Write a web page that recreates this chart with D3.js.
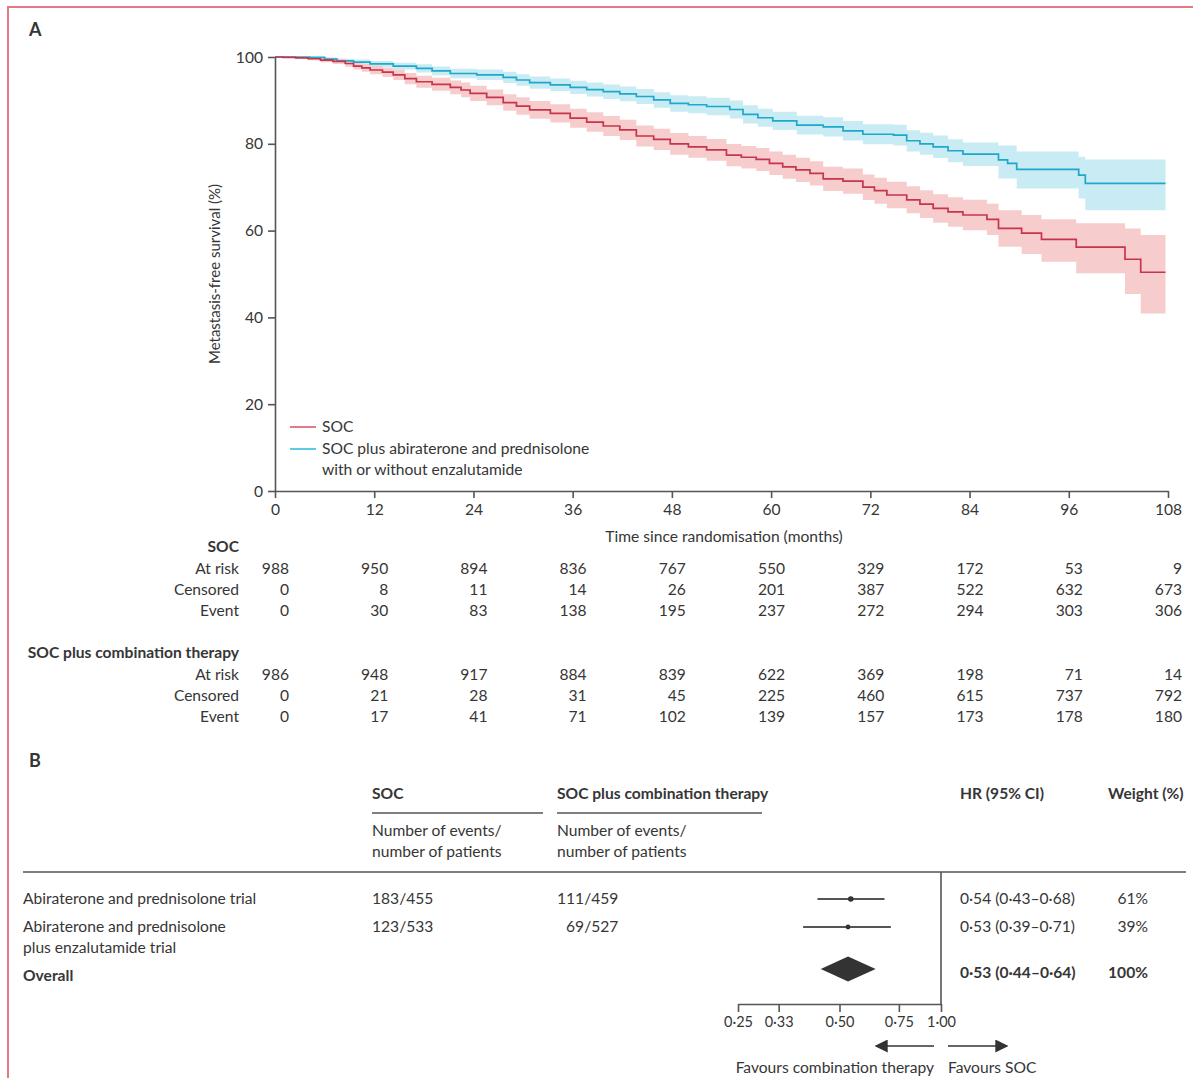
<!DOCTYPE html>
<html>
<head>
<meta charset="utf-8">
<script src="https://cdn.jsdelivr.net/npm/d3@7"></script>
<style>
  html, body { margin: 0; padding: 0; background: #fff; }
  svg { display: block; }
  text { font-family: Lato, "Noto Sans", sans-serif; fill: #363636; }
  .bold { font-weight: 700; }
</style>
</head>
<body>
<svg id="fig" width="1193" height="1078"></svg>
<script>
// ---- Panel A: Kaplan-Meier metastasis-free survival, rows of [month, survival %, lower 95% CI, upper 95% CI]
const socSteps = [
  [0, 100, 100, 100], [1, 99.9, 99.8, 100], [2.5, 99.8, 99.6, 100], [4, 99.6, 99.25, 99.95],
  [5.5, 99.3, 98.8, 99.8], [7, 99.0, 98.4, 99.6], [8.5, 98.5, 97.75, 99.25], [9.5, 97.9, 97.1, 98.7],
  [10.5, 97.5, 96.6, 98.4], [11.5, 97.0, 96.0, 98.0], [13, 96.5, 95.4, 97.6], [14.3, 95.9, 94.7, 97.1],
  [15.7, 95.0, 93.7, 96.3], [17.1, 94.3, 92.9, 95.7], [19, 93.7, 92.2, 95.2], [21.2, 93.0, 91.4, 94.6],
  [22.5, 92.4, 90.7, 94.1], [23.6, 91.6, 89.85, 93.35], [25.6, 90.7, 88.9, 92.5], [27.6, 89.5, 87.6, 91.4],
  [29.2, 88.7, 86.7, 90.7], [30.8, 87.8, 85.75, 89.85], [33.3, 87.0, 84.9, 89.1], [35.7, 85.9, 83.7, 88.1],
  [37.7, 85.0, 82.75, 87.25], [39.7, 84.1, 81.8, 86.4], [41.7, 83.2, 80.85, 85.55], [43.7, 81.8, 79.4, 84.2],
  [45.8, 81.0, 78.55, 83.45], [47.8, 80.0, 77.5, 82.5], [50, 79.3, 76.8, 81.8], [52.2, 78.6, 76.1, 81.1],
  [54.6, 77.4, 74.85, 79.95], [56.4, 76.9, 74.3, 79.5], [58.2, 76.4, 73.75, 79.05], [59.8, 75.5, 72.8, 78.2],
  [61.4, 74.7, 71.95, 77.45], [63, 74.0, 71.2, 76.8], [64.7, 73.2, 70.4, 76.0], [66.3, 71.9, 69.1, 74.7],
  [68.7, 71.4, 68.5, 74.3], [71.1, 70.0, 67.05, 72.95], [72.5, 69.2, 66.2, 72.2], [74.0, 68.2, 65.15, 71.25],
  [76.4, 67.1, 64.0, 70.2], [78, 66.1, 62.9, 69.3], [79.6, 65.1, 61.8, 68.4], [81.4, 64.3, 60.9, 67.7],
  [83.2, 63.6, 60.1, 67.1], [86.1, 62.6, 59.0, 66.2], [87.5, 60.5, 56.3, 64.7], [90.3, 59.4, 54.6, 63.6],
  [92.7, 58.0, 52.8, 62.6], [96.9, 56.2, 50.2, 61.7], [102.8, 53.4, 45.4, 60.5], [104.7, 50.4, 40.9, 59.0],
  [107.7, 50.4, 40.9, 59.0]
];
const comboSteps = [
  [0, 100, 100, 100], [1, 100, 99.95, 100], [2.5, 99.95, 99.8, 100], [4.2, 99.9, 99.65, 100],
  [6, 99.5, 99.1, 99.9], [7.5, 99.1, 98.6, 99.6], [9.5, 98.8, 98.2, 99.4], [11.5, 98.4, 97.7, 99.1],
  [14.3, 97.9, 97.1, 98.7], [17.1, 97.4, 96.45, 98.35], [19, 96.8, 95.8, 97.8], [21.2, 96.2, 95.1, 97.3],
  [24.4, 95.9, 94.7, 97.1], [27.6, 95.3, 94.0, 96.6], [29.2, 94.7, 93.35, 96.05], [30.8, 94.1, 92.7, 95.5],
  [33.3, 93.6, 92.15, 95.05], [35.7, 93.0, 91.5, 94.5], [37.7, 92.5, 90.9, 94.1], [39.7, 92.0, 90.35, 93.65],
  [41.7, 91.5, 89.8, 93.2], [43.7, 90.9, 89.15, 92.65], [45.8, 90.1, 88.3, 91.9], [47.8, 89.3, 87.4, 91.2],
  [50, 89.0, 87.05, 90.95], [52.2, 88.6, 86.6, 90.6], [55.0, 87.9, 85.85, 89.95], [56.6, 86.8, 84.7, 88.9],
  [58.4, 86.0, 83.9, 88.1], [60.2, 85.3, 83.2, 87.4], [63.1, 84.3, 82.15, 86.45], [66.3, 83.9, 81.7, 86.1],
  [68.7, 83.0, 80.75, 85.25], [71.1, 82.2, 79.9, 84.5], [74.8, 82.0, 79.6, 84.4], [76.4, 80.7, 78.25, 83.15],
  [78, 80.0, 77.45, 82.55], [79.6, 79.3, 76.7, 81.9], [81.4, 78.4, 75.75, 81.05], [83.2, 77.6, 74.9, 80.3],
  [87.5, 76.3, 72.0, 79.6], [88.6, 75.5, 72.0, 79.6], [89.7, 74.1, 69.7, 78.2], [97.2, 72.8, 67.4, 77.0],
  [98.0, 70.9, 64.7, 76.4], [107.7, 70.9, 64.7, 76.4]
];

const monthTicks = [0, 12, 24, 36, 48, 60, 72, 84, 96, 108];
const survivalTicks = [0, 20, 40, 60, 80, 100];

// Numbers at risk table
const socAtRisk     = [988, 950, 894, 836, 767, 550, 329, 172, 53, 9];
const socCensored   = [0, 8, 11, 14, 26, 201, 387, 522, 632, 673];
const socEvent      = [0, 30, 83, 138, 195, 237, 272, 294, 303, 306];
const comboAtRisk   = [986, 948, 917, 884, 839, 622, 369, 198, 71, 14];
const comboCensored = [0, 21, 28, 31, 45, 225, 460, 615, 737, 792];
const comboEvent    = [0, 17, 41, 71, 102, 139, 157, 173, 178, 180];

// ---- Panel B: meta-analysis forest plot
const trialLabels   = [["Abiraterone and prednisolone trial"], ["Abiraterone and prednisolone", "plus enzalutamide trial"]];
const socEvents     = ["183/455", "123/533"];
const comboEvents   = ["111/459", "\u200769/527"];
const trialHR       = [0.54, 0.53];
const trialLower    = [0.43, 0.39];
const trialUpper    = [0.68, 0.71];
const trialWeight   = ["61%", "39%"];
const overallHR     = 0.53, overallLower = 0.44, overallUpper = 0.64, overallWeight = "100%";
const hrTicks       = [0.25, 0.33, 0.50, 0.75, 1.00];

const colSOC = "#c7344c", bandSOC = "#f5c9ca", legSOC = "#e27c89";
const colCombo = "#1ea8ca", bandCombo = "#c9ebf3", legCombo = "#5ccbe3";
const axisCol = "#555";
const FS = 15.6;

const svg = d3.select("#fig");
const fmt = v => v.toFixed(2).replace(".", "\u00b7");

// outer frame
svg.append("rect").attr("x", 8).attr("y", 7).attr("width", 1200).attr("height", 1100)
  .attr("fill", "none").attr("stroke", "#e27a86").attr("stroke-width", 2);

svg.append("text").attr("class", "bold").attr("x", 29).attr("y", 36)
  .attr("font-size", 18).text("A");

// ---- KM plot
const x = d3.scaleLinear().domain([0, 108]).range([275, 1168]);
const y = d3.scaleLinear().domain([0, 100]).range([491, 57]);

const band = d3.area().curve(d3.curveStepAfter)
  .x(d => x(d[0])).y0(d => y(d[2])).y1(d => y(d[3]));
const line = d3.line().curve(d3.curveStepAfter)
  .x(d => x(d[0])).y(d => y(d[1]));

const km = svg.append("g");
km.append("path").datum(comboSteps).attr("d", band).attr("fill", bandCombo);
km.append("path").datum(socSteps).attr("d", band).attr("fill", bandSOC).attr("fill-opacity", 0.95);
km.append("path").datum(comboSteps).attr("d", line).attr("fill", "none")
  .attr("stroke", colCombo).attr("stroke-width", 1.7);
km.append("path").datum(socSteps).attr("d", line).attr("fill", "none")
  .attr("stroke", colSOC).attr("stroke-width", 1.7);

const yAxis = svg.append("g").attr("transform", `translate(${x(0)},0)`)
  .call(d3.axisLeft(y).tickValues(survivalTicks).tickSize(7).tickSizeOuter(0).tickPadding(5));
const xAxis = svg.append("g").attr("transform", `translate(0,${y(0)})`)
  .call(d3.axisBottom(x).tickValues(monthTicks).tickSize(7).tickSizeOuter(0).tickPadding(6));
[yAxis, xAxis].forEach(a => {
  a.select(".domain").attr("stroke", axisCol).attr("stroke-width", 1.6);
  a.selectAll(".tick line").attr("stroke", axisCol).attr("stroke-width", 1.6);
  a.selectAll(".tick text").attr("font-size", FS).attr("fill", "#363636")
    .style("font-family", "Lato, 'Noto Sans', sans-serif");
});

svg.append("text").attr("transform", "translate(220,274) rotate(-90)")
  .attr("text-anchor", "middle").attr("font-size", 15).text("Metastasis-free survival (%)");
svg.append("text").attr("x", 724).attr("y", 542).attr("text-anchor", "middle")
  .attr("font-size", FS).text("Time since randomisation (months)");

// legend
const legend = svg.append("g");
[[legSOC, ["SOC"], 427], [legCombo, ["SOC plus abiraterone and prednisolone", "with or without enzalutamide"], 449]]
  .forEach(([lc, lines, ly]) => {
    legend.append("line").attr("x1", 290).attr("x2", 316).attr("y1", ly).attr("y2", ly)
      .attr("stroke", lc).attr("stroke-width", 2);
    lines.forEach((t, i) => legend.append("text").attr("x", 322).attr("y", ly + 5 + i * 21)
      .attr("font-size", FS).text(t));
  });

// ---- risk table
const tbl = svg.append("g");
function riskBlock(title, rows, top) {
  tbl.append("text").attr("class", "bold").attr("x", 239).attr("y", top).attr("text-anchor", "end")
    .attr("font-size", FS).text(title);
  rows.forEach(([label, vals], i) => {
    const ry = top + 22 + i * 21;
    tbl.append("text").attr("x", 239).attr("y", ry).attr("text-anchor", "end")
      .attr("font-size", FS).text(label);
    vals.forEach((v, j) => tbl.append("text").attr("x", x(monthTicks[j]) + 14).attr("y", ry)
      .attr("text-anchor", "end").attr("font-size", FS).text(v));
  });
}
riskBlock("SOC", [["At risk", socAtRisk], ["Censored", socCensored], ["Event", socEvent]], 552);
riskBlock("SOC plus combination therapy", [["At risk", comboAtRisk], ["Censored", comboCensored], ["Event", comboEvent]], 658);

// ---- Panel B
const fp = svg.append("g");
fp.append("text").attr("class", "bold").attr("x", 29).attr("y", 767).attr("font-size", 18).text("B");

const colSoc = 372, colCombo2 = 557, colHR = 960, colW = 1108;
fp.append("text").attr("class", "bold").attr("x", colSoc).attr("y", 799).attr("font-size", FS).text("SOC");
fp.append("text").attr("class", "bold").attr("x", colCombo2).attr("y", 799).attr("font-size", FS).text("SOC plus combination therapy");
fp.append("text").attr("class", "bold").attr("x", colHR).attr("y", 799).attr("font-size", FS).text("HR (95% CI)");
fp.append("text").attr("class", "bold").attr("x", colW).attr("y", 799).attr("font-size", FS).text("Weight (%)");
[[colSoc, 543], [colCombo2, 762]].forEach(([a, b]) =>
  fp.append("line").attr("x1", a).attr("x2", b).attr("y1", 813).attr("y2", 813)
    .attr("stroke", axisCol).attr("stroke-width", 1.6));
[colSoc, colCombo2].forEach(cx => {
  fp.append("text").attr("x", cx).attr("y", 836).attr("font-size", FS).text("Number of events/");
  fp.append("text").attr("x", cx).attr("y", 857).attr("font-size", FS).text("number of patients");
});
fp.append("line").attr("x1", 23).attr("x2", 1186).attr("y1", 872).attr("y2", 872)
  .attr("stroke", axisCol).attr("stroke-width", 1.6);

const hx = d3.scaleLog().domain([0.25, 1]).range([738, 941]);
const rowY = [899, 927];

trialLabels.forEach((lines, i) => {
  lines.forEach((t, k) => fp.append("text").attr("x", 23).attr("y", rowY[i] + 5 + k * 21)
    .attr("font-size", FS).text(t));
  fp.append("text").attr("x", colSoc).attr("y", rowY[i] + 5).attr("font-size", FS).text(socEvents[i]);
  fp.append("text").attr("x", colCombo2).attr("y", rowY[i] + 5).attr("font-size", FS).text(comboEvents[i]);
  fp.append("text").attr("x", colHR).attr("y", rowY[i] + 5).attr("font-size", FS)
    .text(`${fmt(trialHR[i])} (${fmt(trialLower[i])}\u2013${fmt(trialUpper[i])})`);
  fp.append("text").attr("x", 1148).attr("y", rowY[i] + 5).attr("text-anchor", "end")
    .attr("font-size", FS).text(trialWeight[i]);
  fp.append("line").attr("x1", hx(trialLower[i])).attr("x2", hx(trialUpper[i]))
    .attr("y1", rowY[i]).attr("y2", rowY[i]).attr("stroke", "#555").attr("stroke-width", 1.8);
  fp.append("circle").attr("cx", hx(trialHR[i])).attr("cy", rowY[i]).attr("r", i === 0 ? 2.8 : 2.4)
    .attr("fill", "#333");
});

const oy = 969;
fp.append("text").attr("class", "bold").attr("x", 23).attr("y", 981).attr("font-size", FS).text("Overall");
fp.append("path")
  .attr("d", `M${hx(overallLower)},${oy} L${hx(overallHR)},${oy - 12.5} L${hx(overallUpper)},${oy} L${hx(overallHR)},${oy + 12.5} Z`)
  .attr("fill", "#333");
fp.append("text").attr("class", "bold").attr("x", colHR).attr("y", 978).attr("font-size", FS)
  .text(`${fmt(overallHR)} (${fmt(overallLower)}\u2013${fmt(overallUpper)})`);
fp.append("text").attr("class", "bold").attr("x", 1148).attr("y", 978).attr("text-anchor", "end")
  .attr("font-size", FS).text(overallWeight);

// null line and HR axis
fp.append("line").attr("x1", hx(1)).attr("x2", hx(1)).attr("y1", 872).attr("y2", 1004)
  .attr("stroke", axisCol).attr("stroke-width", 1.6);
const hAxis = fp.append("g").attr("transform", "translate(0,1004)")
  .call(d3.axisBottom(hx).tickValues(hrTicks).tickFormat(fmt).tickSize(8).tickSizeOuter(0).tickPadding(5));
hAxis.select(".domain").attr("stroke", axisCol).attr("stroke-width", 1.6);
hAxis.selectAll(".tick line").attr("stroke", axisCol).attr("stroke-width", 1.6);
hAxis.selectAll(".tick text").attr("font-size", 14.5).attr("fill", "#363636")
  .style("font-family", "Lato, 'Noto Sans', sans-serif");

// favours arrows
const defs = svg.append("defs");
defs.append("marker").attr("id", "arrow").attr("viewBox", "0 0 10 10").attr("refX", 9).attr("refY", 5)
  .attr("markerWidth", 13).attr("markerHeight", 13).attr("markerUnits", "userSpaceOnUse")
  .attr("orient", "auto").append("path").attr("d", "M0,0 L10,5 L0,10 Z").attr("fill", "#333");
fp.append("line").attr("x1", 934).attr("x2", 876).attr("y1", 1046).attr("y2", 1046)
  .attr("stroke", "#333").attr("stroke-width", 1.6).attr("marker-end", "url(#arrow)");
fp.append("line").attr("x1", 948).attr("x2", 1007).attr("y1", 1046).attr("y2", 1046)
  .attr("stroke", "#333").attr("stroke-width", 1.6).attr("marker-end", "url(#arrow)");
fp.append("text").attr("x", 934).attr("y", 1073).attr("text-anchor", "end").attr("font-size", FS)
  .text("Favours combination therapy");
fp.append("text").attr("x", 948).attr("y", 1073).attr("font-size", FS).text("Favours SOC");
</script>
</body>
</html>
